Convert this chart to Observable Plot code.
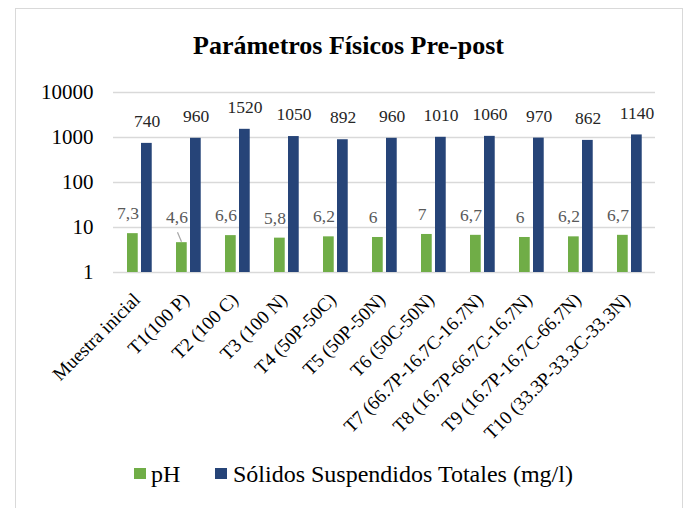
<!DOCTYPE html>
<html><head><meta charset="utf-8">
<script src="https://cdn.jsdelivr.net/npm/d3@7"></script>
<script src="https://cdn.jsdelivr.net/npm/@observablehq/plot@0.6"></script>
<style>
body{margin:0;width:684px;height:508px;overflow:hidden;background:#fff;font-family:"Liberation Serif","Times New Roman",serif;position:relative}
#frame{position:absolute;left:15px;top:8px;width:668px;height:530px;border:1.5px solid #d9d9d9;box-sizing:border-box}
#title{position:absolute;left:15px;width:667px;top:31px;text-align:center;font-weight:bold;font-size:26px;line-height:30px;color:#000}
#chart{position:absolute;left:0;top:0}
#legend{position:absolute;top:462px;left:0;width:684px;height:24px;font-size:24px;color:#000}
.sw{position:absolute;width:12px;height:11px;top:6px}
.lt{position:absolute;top:0;line-height:24px;white-space:nowrap}
</style></head><body>
<div id="frame"></div>
<div id="title">Parámetros Físicos Pre-post</div>
<div id="chart"></div>
<div id="legend"></div>
<script>
const categories = ["Muestra inicial","T1(100 P)","T2 (100 C)","T3 (100 N)","T4 (50P-50C)","T5 (50P-50N)","T6 (50C-50N)","T7 (66.7P-16.7C-16.7N)","T8 (16.7P-66.7C-16.7N)","T9 (16.7P-16.7C-66.7N)","T10 (33.3P-33.3C-33.3N)"];
const phValues = [7.3,4.6,6.6,5.8,6.2,6,7,6.7,6,6.2,6.7];
const sstValues = [740,960,1520,1050,892,960,1010,1060,970,862,1140];
const yTicks = [1,10,100,1000,10000];
const seriesNames = ["pH","Sólidos Suspendidos Totales (mg/l)"];
const seriesColors = ["#70ad47","#264478"];
const leaderCats = ["T1(100 P)"];

const rows = categories.map((c,i)=>({cat:c, ph:phValues[i], sst:sstValues[i]}));
const fmt = v => String(v).replace(".", ",");

const W=684,H=440,mL=113,mR=29,mT=92,mB=168;
const bw=(W-mL-mR)/categories.length;
const font = '"Liberation Serif","Times New Roman",serif';

const chart = Plot.plot({
  width:W,height:H,marginLeft:mL,marginRight:mR,marginTop:mT,marginBottom:mB,
  style:{fontFamily:font, background:"transparent", overflow:"visible"},
  x:{type:"band",domain:categories,padding:0,axis:null},
  y:{type:"log",domain:[1,10000]},
  marks:[
    Plot.ruleY(yTicks,{stroke:"#d9d9d9",strokeWidth:1.5}),
    Plot.axisY({ticks:yTicks, tickFormat:d=>String(d), tickSize:0, tickPadding:20, fontSize:21, fill:"#000"}),
    Plot.barY(rows,{x:"cat", y1:1, y2:"ph", fill:seriesColors[0], insetLeft:12, insetRight:bw-23}),
    Plot.barY(rows,{x:"cat", y1:1, y2:"sst", fill:seriesColors[1], insetLeft:26, insetRight:bw-37}),
    Plot.text(rows,{filter:d=>!leaderCats.includes(d.cat), x:"cat", y:"ph", text:d=>fmt(d.ph), dx:-12, dy:-20, fontSize:17.5, fill:"#595959", lineAnchor:"middle"}),
    Plot.text(rows,{filter:d=>leaderCats.includes(d.cat), x:"cat", y:"ph", text:d=>fmt(d.ph), dx:-12, dy:-25, fontSize:17.5, fill:"#595959", lineAnchor:"middle"}),
    Plot.text(rows,{x:"cat", y:"sst", text:d=>fmt(d.sst), dx:7, dy:-22, fontSize:17.5, fill:"#262626", lineAnchor:"middle"}),
    Plot.text(categories,{x:d=>d, frameAnchor:"bottom", rotate:-45, textAnchor:"end", lineAnchor:"middle", dx:-3, dy:24, fontSize:19, fill:"#000"})
  ]
});
document.getElementById("chart").appendChild(chart);

// leader line for displaced label, positioned with the plot's scales
const xs = chart.scale("x"), ys = chart.scale("y");
rows.filter(d=>leaderCats.includes(d.cat)).forEach(d=>{
  const cx = xs.apply(d.cat) + 17.5, top = ys.apply(d.ph);
  d3.select(chart).append("line")
    .attr("x1",cx).attr("y1",top-0.5).attr("x2",cx-4).attr("y2",top-10)
    .attr("stroke","#a6a6a6").attr("stroke-width",1.2);
});

// legend
const lg = document.getElementById("legend");
const pos = [[134,151],[215,233]];
seriesNames.forEach((n,i)=>{
  const s=document.createElement("div"); s.className="sw"; s.style.left=pos[i][0]+"px"; s.style.background=seriesColors[i]; lg.appendChild(s);
  const t=document.createElement("div"); t.className="lt"; t.style.left=pos[i][1]+"px"; t.textContent=n; lg.appendChild(t);
});
</script>
</body></html>
